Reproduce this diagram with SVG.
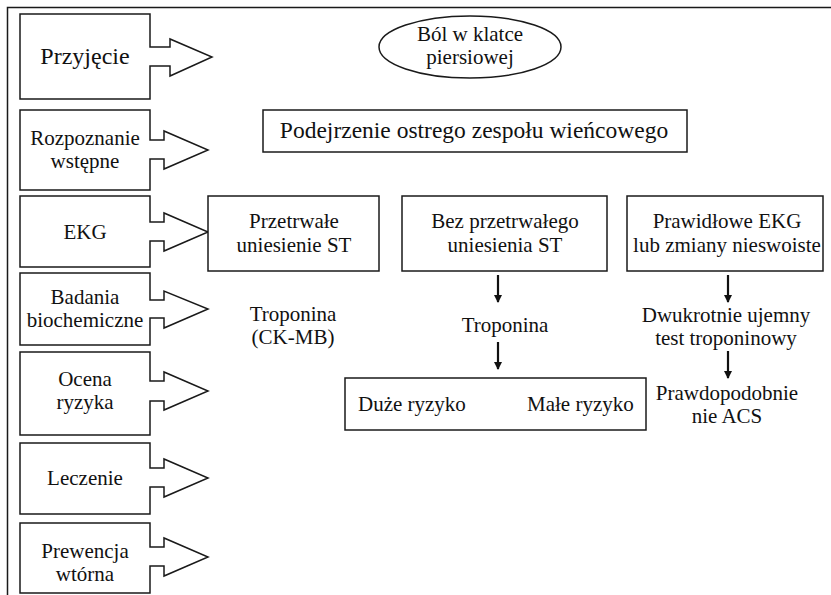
<svg xmlns="http://www.w3.org/2000/svg" width="831" height="595" viewBox="0 0 831 595">
<defs>
<style>
.s{fill:#fff;stroke:#1a1a1a;stroke-width:1.5}
.t{font-family:"Liberation Serif","Times New Roman","DejaVu Serif",serif;font-size:21px;fill:#111;text-anchor:middle}
.ts{font-family:"Liberation Serif","Times New Roman","DejaVu Serif",serif;font-size:21px;fill:#111}
.c{stroke:#111;stroke-width:2.2;fill:none}
</style>
<marker id="ah" markerWidth="8" markerHeight="8" refX="7" refY="4" orient="auto" markerUnits="userSpaceOnUse" viewBox="0 0 8 8">
<path d="M0,0 L8,4 L0,8 Z" fill="#111"/>
</marker>
</defs>
<rect width="831" height="595" fill="#fff"/>
<path d="M7.5,595 V7.5 H831" fill="none" stroke="#1a1a1a" stroke-width="1.5"/>

<g id="stage1">
<path class="s" d="M20,14 H150 V47 H170 V39 L212,57 L170,76 V66 H150 V99 H20 Z"/>
<text class="t" x="85" y="64" style="font-size:24px">Przyjęcie</text>
</g>
<g id="stage2">
<path class="s" d="M20,110 H150 V140 H164 V131 L208,150 L164,169 V159 H150 V190 H20 Z"/>
<text class="t" x="85" y="145">Rozpoznanie</text>
<text class="t" x="85" y="168">wstępne</text>
</g>
<g id="stage3">
<path class="s" d="M20,196 H150 V222 H164 V213 L208,232 L164,251 V241 H150 V267 H20 Z"/>
<text class="t" x="85" y="239">EKG</text>
</g>
<g id="stage4">
<path class="s" d="M20,273 H150 V300 H164 V291 L208,309 L164,328 V318 H150 V345 H20 Z"/>
<text class="t" x="85" y="304">Badania</text>
<text class="t" x="85" y="327">biochemiczne</text>
</g>
<g id="stage5">
<path class="s" d="M20,352 H150 V381 H164 V372 L208,391 L164,410 V401 H150 V435 H20 Z"/>
<text class="t" x="85" y="386">Ocena</text>
<text class="t" x="85" y="409">ryzyka</text>
</g>
<g id="stage6">
<path class="s" d="M20,443 H150 V468 H164 V459 L208,478 L164,497 V487 H150 V514 H20 Z"/>
<text class="t" x="85" y="485">Leczenie</text>
</g>
<g id="stage7">
<path class="s" d="M20,523 H150 V547 H164 V538 L208,557 L164,576 V566 H150 V593 H20 Z"/>
<text class="t" x="85" y="558">Prewencja</text>
<text class="t" x="85" y="581">wtórna</text>
</g>

<g id="bol">
<ellipse class="s" cx="470" cy="47" rx="91" ry="31"/>
<text class="t" x="470" y="41">Ból w klatce</text>
<text class="t" x="470" y="64">piersiowej</text>
</g>
<g id="podejrzenie">
<rect class="s" x="263" y="110" width="424" height="42"/>
<text class="t" x="474" y="138" style="font-size:23.5px">Podejrzenie ostrego zespołu wieńcowego</text>
</g>
<g id="stemi">
<rect class="s" x="208" y="196" width="171" height="75"/>
<text class="t" x="294" y="228">Przetrwałe</text>
<text class="t" x="294" y="252">uniesienie ST</text>
</g>
<g id="nstemi">
<rect class="s" x="402" y="196" width="205" height="75"/>
<text class="t" x="505" y="228">Bez przetrwałego</text>
<text class="t" x="505" y="252">uniesienia ST</text>
</g>
<g id="normal">
<rect class="s" x="627" y="196" width="196" height="75"/>
<text class="t" x="727" y="228">Prawidłowe EKG</text>
<text class="t" x="727" y="252">lub zmiany nieswoiste</text>
</g>
<g id="troponina-ckmb">
<text class="t" x="293" y="321">Troponina</text>
<text class="t" x="293" y="344">(CK-MB)</text>
</g>
<g id="troponina">
<text class="t" x="505" y="332">Troponina</text>
</g>
<g id="ryzyko">
<rect class="s" x="345" y="378" width="301" height="52"/>
<text class="ts" x="358" y="411">Duże ryzyko</text>
<text class="ts" x="527" y="411">Małe ryzyko</text>
</g>
<g id="dwukrotnie">
<text class="t" x="726" y="322">Dwukrotnie ujemny</text>
<text class="t" x="726" y="345">test troponinowy</text>
</g>
<g id="prawdopodobnie">
<text class="t" x="727" y="400">Prawdopodobnie</text>
<text class="t" x="727" y="423">nie ACS</text>
</g>

<g id="connectors">
<line class="c" x1="498" y1="275" x2="498" y2="302" marker-end="url(#ah)"/>
<line class="c" x1="498" y1="342" x2="498" y2="369" marker-end="url(#ah)"/>
<line class="c" x1="728" y1="275" x2="728" y2="302" marker-end="url(#ah)"/>
<line class="c" x1="728" y1="351" x2="728" y2="378" marker-end="url(#ah)"/>
</g>
</svg>
